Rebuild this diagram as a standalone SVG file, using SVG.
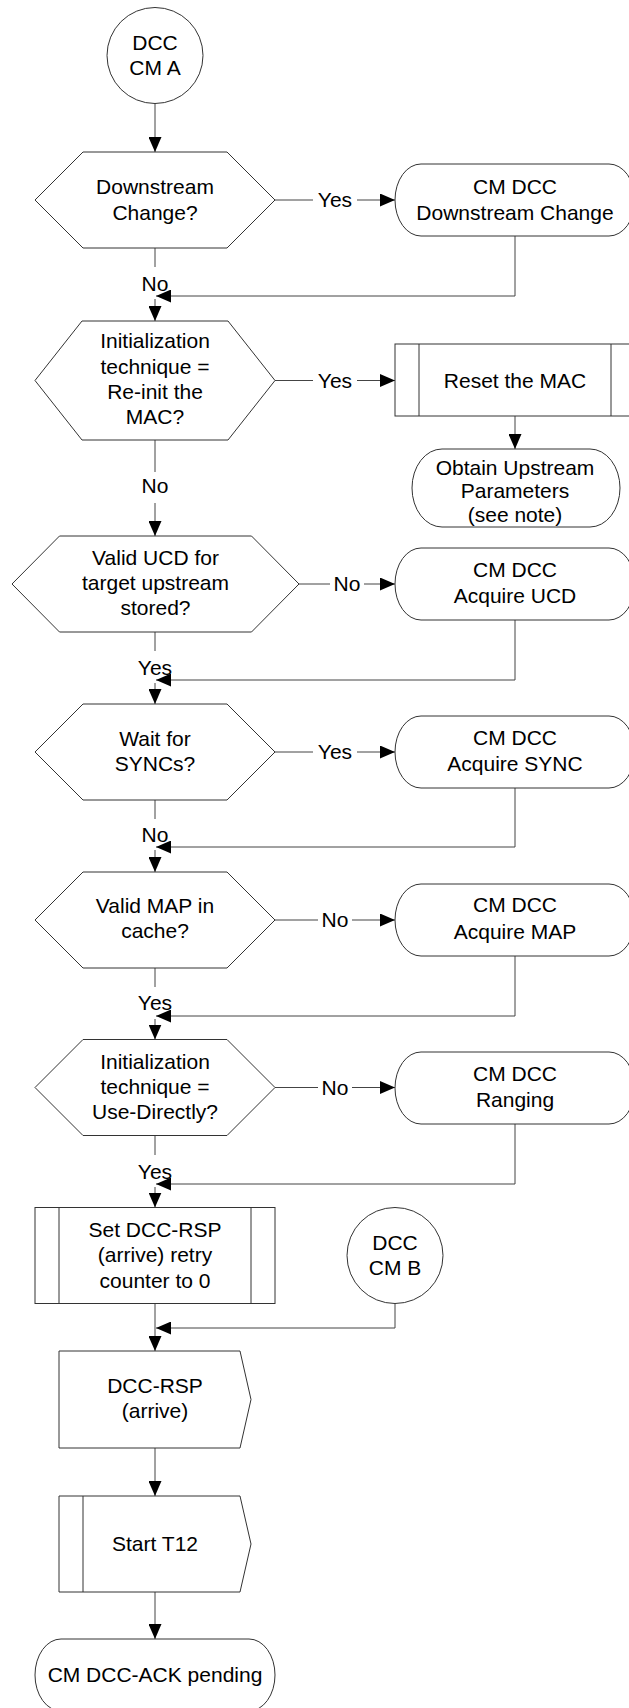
<svg xmlns="http://www.w3.org/2000/svg" width="629" height="1708" viewBox="0 0 629 1708">
<defs>
<style>
.s{fill:#fff;stroke:#333;stroke-width:1}
.c{fill:none;stroke:#444;stroke-width:1}
.t{font-family:"Liberation Sans",Arial,sans-serif;font-size:21px;fill:#000;text-anchor:middle}
</style>
<marker id="ah" viewBox="0 0 15 13" refX="15" refY="6.5" markerWidth="15" markerHeight="13" orient="auto" markerUnits="userSpaceOnUse"><path d="M0,0L15,6.5L0,13z" fill="#000"/></marker>
</defs>
<rect x="0" y="0" width="629" height="1708" fill="#fff"/>

<g id="connectors">
<path class="c" d="M155,103.5V152" marker-end="url(#ah)"/>
<path class="c" d="M155,248V267"/>
<path class="c" d="M155,299V321" marker-end="url(#ah)"/>
<path class="c" d="M275,200H313"/>
<path class="c" d="M357,200H395" marker-end="url(#ah)"/>
<path class="c" d="M515,236V296H156" marker-end="url(#ah)"/>

<path class="c" d="M155,440V472"/>
<path class="c" d="M155,503V536" marker-end="url(#ah)"/>
<path class="c" d="M275,380.5H313"/>
<path class="c" d="M357,380.5H395" marker-end="url(#ah)"/>
<path class="c" d="M515,416V449" marker-end="url(#ah)"/>

<path class="c" d="M155,632V651"/>
<path class="c" d="M155,683V704" marker-end="url(#ah)"/>
<path class="c" d="M299,584H330"/>
<path class="c" d="M364,584H395" marker-end="url(#ah)"/>
<path class="c" d="M515,620V680H156" marker-end="url(#ah)"/>

<path class="c" d="M155,800V819"/>
<path class="c" d="M155,850V872" marker-end="url(#ah)"/>
<path class="c" d="M275,752H313"/>
<path class="c" d="M357,752H395" marker-end="url(#ah)"/>
<path class="c" d="M515,788V847H156" marker-end="url(#ah)"/>

<path class="c" d="M155,968V987"/>
<path class="c" d="M155,1019V1039.5" marker-end="url(#ah)"/>
<path class="c" d="M275,920H318"/>
<path class="c" d="M352,920H395" marker-end="url(#ah)"/>
<path class="c" d="M515,956V1016H156" marker-end="url(#ah)"/>

<path class="c" d="M155,1135.5V1155"/>
<path class="c" d="M155,1187V1207.5" marker-end="url(#ah)"/>
<path class="c" d="M275,1087.5H318"/>
<path class="c" d="M352,1087.5H395" marker-end="url(#ah)"/>
<path class="c" d="M515,1124V1184H156" marker-end="url(#ah)"/>

<path class="c" d="M155,1303.5V1351" marker-end="url(#ah)"/>
<path class="c" d="M395,1303.5V1328H156" marker-end="url(#ah)"/>
<path class="c" d="M155,1448V1496" marker-end="url(#ah)"/>
<path class="c" d="M155,1592V1639" marker-end="url(#ah)"/>
</g>

<g id="edge-labels">
<text class="t" x="155" y="290.5">No</text>
<text class="t" x="335" y="207.3">Yes</text>
<text class="t" x="155" y="493.3">No</text>
<text class="t" x="335" y="387.5">Yes</text>
<text class="t" x="155" y="675">Yes</text>
<text class="t" x="347" y="591">No</text>
<text class="t" x="155" y="842">No</text>
<text class="t" x="335" y="759">Yes</text>
<text class="t" x="155" y="1010">Yes</text>
<text class="t" x="335" y="927">No</text>
<text class="t" x="155" y="1179">Yes</text>
<text class="t" x="335" y="1094.5">No</text>
</g>

<g id="start-a">
<circle class="s" cx="155" cy="55.5" r="48"/>
<text class="t" x="155" y="50">DCC</text>
<text class="t" x="155" y="75">CM A</text>
</g>

<g id="d-downstream">
<polygon class="s" points="35,200 83,152 227,152 275,200 227,248 83,248"/>
<text class="t" x="155" y="194.3">Downstream</text>
<text class="t" x="155" y="220">Change?</text>
</g>

<g id="t-downstream-change">
<rect class="s" x="395" y="164" width="240" height="72" rx="26" ry="36"/>
<text class="t" x="515" y="194.3">CM DCC</text>
<text class="t" x="515" y="220">Downstream Change</text>
</g>

<g id="d-reinit">
<polygon class="s" points="35,380.5 82,321 228,321 275,380.5 228,440 82,440"/>
<text class="t" x="155" y="348.3">Initialization</text>
<text class="t" x="155" y="373.5">technique =</text>
<text class="t" x="155" y="398.7">Re-init the</text>
<text class="t" x="155" y="424">MAC?</text>
</g>

<g id="p-reset-mac">
<rect class="s" x="395" y="344" width="240" height="72"/>
<line class="s" x1="419" y1="344" x2="419" y2="416"/>
<line class="s" x1="611" y1="344" x2="611" y2="416"/>
<text class="t" x="515" y="387.5">Reset the MAC</text>
</g>

<g id="t-obtain">
<rect class="s" x="412" y="449" width="208" height="78" rx="30" ry="39"/>
<text class="t" x="515" y="475">Obtain Upstream</text>
<text class="t" x="515" y="498">Parameters</text>
<text class="t" x="515" y="521.5">(see note)</text>
</g>

<g id="d-ucd">
<polygon class="s" points="12,584 59.5,536 251.5,536 299,584 251.5,632 59.5,632"/>
<text class="t" x="155.5" y="565">Valid UCD for</text>
<text class="t" x="155.5" y="590">target upstream</text>
<text class="t" x="155.5" y="615">stored?</text>
</g>

<g id="t-acquire-ucd">
<rect class="s" x="395" y="548" width="240" height="72" rx="26" ry="36"/>
<text class="t" x="515" y="577.3">CM DCC</text>
<text class="t" x="515" y="602.7">Acquire UCD</text>
</g>

<g id="d-sync">
<polygon class="s" points="35,752 83,704 227,704 275,752 227,800 83,800"/>
<text class="t" x="155" y="745.7">Wait for</text>
<text class="t" x="155" y="771">SYNCs?</text>
</g>

<g id="t-acquire-sync">
<rect class="s" x="395" y="716" width="240" height="72" rx="26" ry="36"/>
<text class="t" x="515" y="745">CM DCC</text>
<text class="t" x="515" y="770.7">Acquire SYNC</text>
</g>

<g id="d-map">
<polygon class="s" points="35,920 83,872 227,872 275,920 227,968 83,968"/>
<text class="t" x="155" y="912.7">Valid MAP in</text>
<text class="t" x="155" y="938.3">cache?</text>
</g>

<g id="t-acquire-map">
<rect class="s" x="395" y="884" width="240" height="72" rx="26" ry="36"/>
<text class="t" x="515" y="912.3">CM DCC</text>
<text class="t" x="515" y="939">Acquire MAP</text>
</g>

<g id="d-usedirect">
<polygon class="s" points="35,1087.5 83,1039.5 227,1039.5 275,1087.5 227,1135.5 83,1135.5"/>
<text class="t" x="155" y="1068.7">Initialization</text>
<text class="t" x="155" y="1094">technique =</text>
<text class="t" x="155" y="1119">Use-Directly?</text>
</g>

<g id="t-ranging">
<rect class="s" x="395" y="1052" width="240" height="72" rx="26" ry="36"/>
<text class="t" x="515" y="1080.7">CM DCC</text>
<text class="t" x="515" y="1106.7">Ranging</text>
</g>

<g id="p-set-counter">
<rect class="s" x="35" y="1207.5" width="240" height="96"/>
<line class="s" x1="59" y1="1207.5" x2="59" y2="1303.5"/>
<line class="s" x1="251" y1="1207.5" x2="251" y2="1303.5"/>
<text class="t" x="155" y="1236.7">Set DCC-RSP</text>
<text class="t" x="155" y="1262">(arrive) retry</text>
<text class="t" x="155" y="1287.7">counter to 0</text>
</g>

<g id="start-b">
<circle class="s" cx="395" cy="1255.5" r="48"/>
<text class="t" x="395" y="1250">DCC</text>
<text class="t" x="395" y="1274.5">CM B</text>
</g>

<g id="in-dcc-rsp">
<polygon class="s" points="59,1351 240,1351 251,1399.5 240,1448 59,1448"/>
<text class="t" x="155" y="1393.3">DCC-RSP</text>
<text class="t" x="155" y="1418.3">(arrive)</text>
</g>

<g id="out-start-t12">
<polygon class="s" points="59,1496 240,1496 251,1544 240,1592 59,1592"/>
<line class="s" x1="83" y1="1496" x2="83" y2="1592"/>
<text class="t" x="155" y="1550.7">Start T12</text>
</g>

<g id="t-ack-pending">
<rect class="s" x="35" y="1639" width="240" height="72" rx="26" ry="36"/>
<text class="t" x="155" y="1681.7">CM DCC-ACK pending</text>
</g>
</svg>
